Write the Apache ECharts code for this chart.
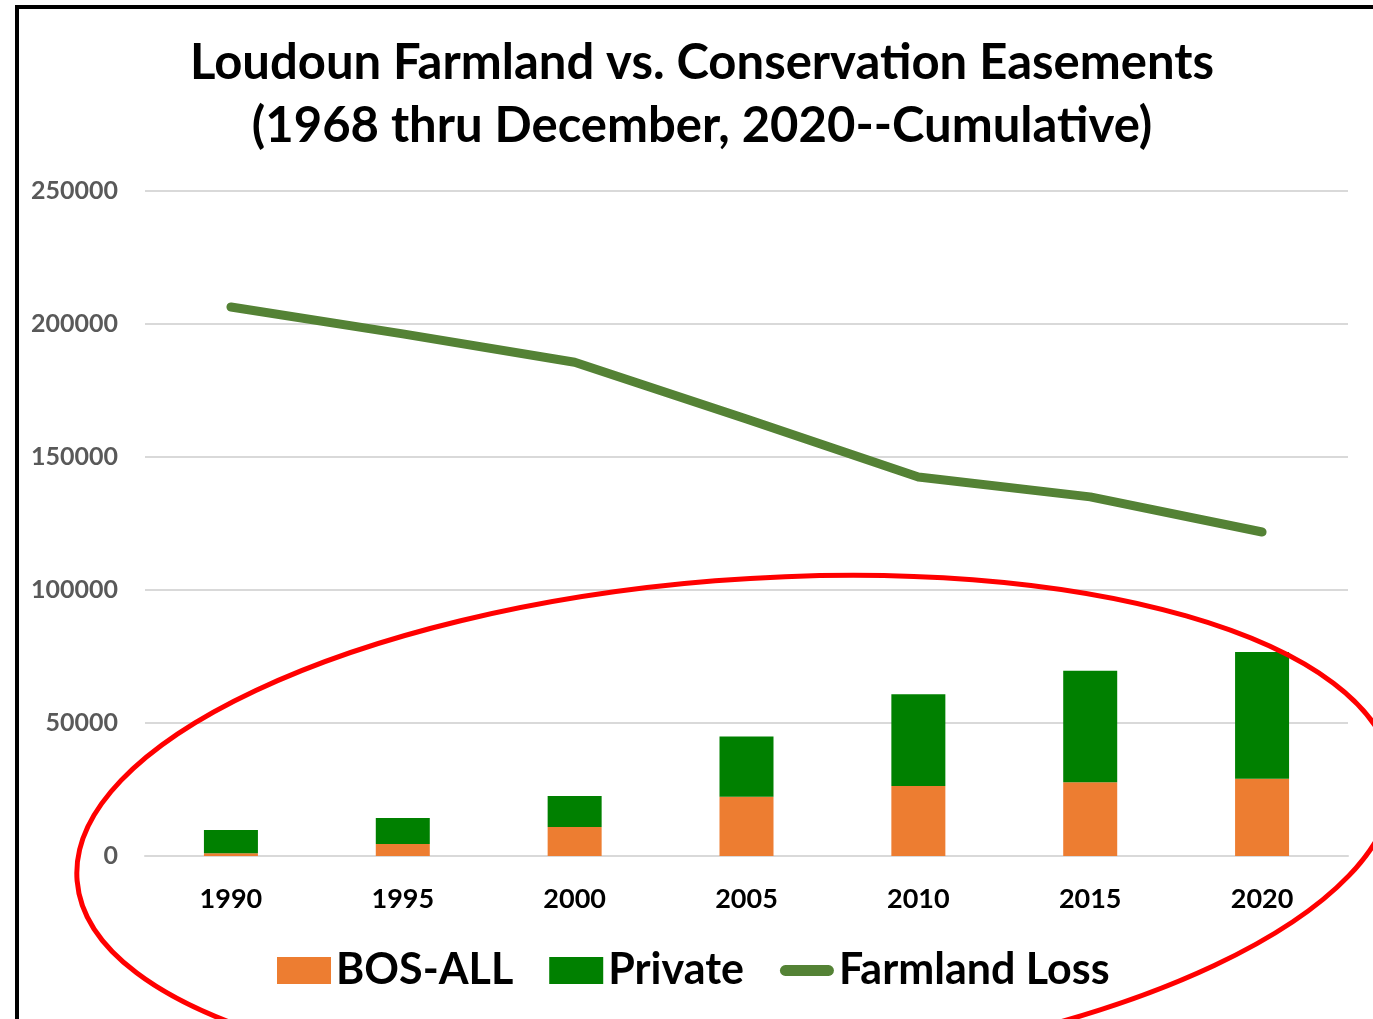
<!DOCTYPE html>
<html>
<head>
<meta charset="utf-8">
<script src="https://cdn.jsdelivr.net/npm/echarts@6/dist/echarts.min.js"></script>
<style>
  html, body { margin: 0; padding: 0; background: #fff; }
  #chart { width: 1373px; height: 1019px; }
</style>
</head>
<body>
<div id="chart"></div>
<script>
// cumulative acres
const years = ['1990', '1995', '2000', '2005', '2010', '2015', '2020']
const bosAll = [1000, 4500, 10900, 22300, 26300, 27700, 29000]
const privateEase = [8800, 9800, 11700, 22600, 34500, 41900, 47700]
const farmlandLoss = [206400, 196300, 185600, 164300, 142500, 135000, 121800]
const yTicks = [0, 50000, 100000, 150000, 200000, 250000]

const font = 'Lato, "Noto Sans", sans-serif'
const chart = echarts.init(document.getElementById('chart'))

const option = {
  animation: false,
  title: {
    text: 'Loudoun Farmland vs. Conservation Easements\n(1968 thru December, 2020--Cumulative)',
    left: 697,
    top: 27,
    textAlign: 'center',
    textStyle: {
      fontFamily: font,
      fontWeight: 'bold',
      fontSize: 49,
      lineHeight: 63,
      color: '#000'
    }
  },
  grid: {
    left: 145,
    right: 25,
    top: 191,
    bottom: 163
  },
  legend: {
    bottom: 22,
    left: 272,
    itemWidth: 54,
    itemHeight: 27,
    itemGap: 36,
    textStyle: {
      fontFamily: font,
      fontWeight: 'bold',
      fontSize: 43,
      color: '#000'
    },
    data: [
      { name: 'BOS-ALL', icon: 'rect' },
      { name: 'Private', icon: 'rect' },
      {
        name: 'Farmland Loss',
        icon: 'path://M6,0 H54 A6,6 0 0 1 54,12 H6 A6,6 0 0 1 6,0 Z',
        itemStyle: { color: '#548235' }
      }
    ]
  },
  xAxis: {
    type: 'category',
    data: years,
    axisTick: { show: false },
    axisLine: { lineStyle: { color: '#d9d9d9', width: 2 } },
    axisLabel: {
      margin: 30,
      fontFamily: font,
      fontWeight: 'bold',
      fontSize: 27,
      color: '#000'
    }
  },
  yAxis: {
    type: 'value',
    min: yTicks[0],
    max: yTicks[yTicks.length - 1],
    interval: 50000,
    axisLine: { show: false },
    axisTick: { show: false },
    splitLine: { lineStyle: { color: '#d9d9d9', width: 2 } },
    axisLabel: {
      margin: 27,
      fontFamily: font,
      fontWeight: 'bold',
      fontSize: 25,
      color: '#595959',
      formatter: v => String(v)
    }
  },
  series: [
    {
      name: 'BOS-ALL',
      type: 'bar',
      stack: 'ease',
      barWidth: 54,
      itemStyle: { color: '#ED7D31' },
      data: bosAll
    },
    {
      name: 'Private',
      type: 'bar',
      stack: 'ease',
      barWidth: 54,
      itemStyle: { color: '#008000' },
      data: privateEase
    },
    {
      name: 'Farmland Loss',
      type: 'line',
      symbol: 'none',
      z: 5,
      lineStyle: { color: '#548235', width: 9, cap: 'round', join: 'round' },
      itemStyle: { color: '#548235' },
      data: farmlandLoss
    }
  ],
  graphic: [
    // frame edges
    { type: 'rect', shape: { x: 15, y: 5, width: 4, height: 1014 }, style: { fill: '#000' }, z: 10 },
    { type: 'rect', shape: { x: 15, y: 5, width: 1358, height: 4 }, style: { fill: '#000' }, z: 10 },
    // red hand annotation
    {
      type: 'ellipse',
      x: 735,
      y: 828,
      rotation: 0.08,
      shape: { cx: 0, cy: 0, rx: 660, ry: 248 },
      style: { fill: 'none', stroke: '#ff0000', lineWidth: 5 },
      z: 20
    }
  ]
}

chart.setOption(option)
</script>
</body>
</html>
